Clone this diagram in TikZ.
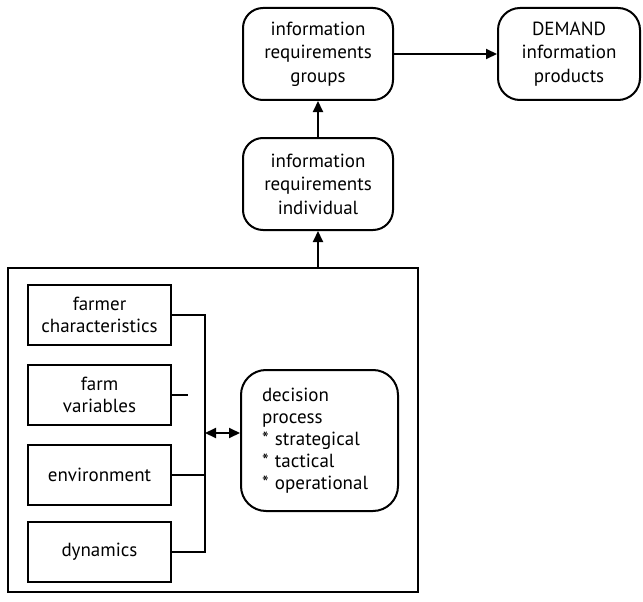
\documentclass[tikz,border=0pt]{standalone}
\usepackage{fontspec}
\setmainfont{PT Sans}
\usetikzlibrary{arrows.meta}
\begin{document}
\begin{tikzpicture}[x=1pt,y=-1pt,
  every node/.style={font=\fontsize{19}{23.5}\selectfont, inner sep=0pt, line width=2pt},
  rbox/.style={draw, rounded corners=20pt, align=center, minimum width=150pt, minimum height=92pt},
  sbox/.style={draw, align=center, minimum width=143pt, minimum height=60pt, font=\fontsize{19}{22}\selectfont},
  wire/.style={line width=2pt},
  tip/.tip={Triangle[length=11pt,width=10pt]},
  arr/.style={wire, -tip},
  darr/.style={wire, tip-tip}]
\useasboundingbox (0,0) rectangle (643,602);
% upper chain
\node[rbox] (grp) at (318,54) {information\\requirements\\groups};
\node[rbox, minimum width=142pt, rounded corners=22pt] (dem) at (569,54) {DEMAND\\information\\products};
\node[rbox] (ind) at (318,184) {information\\requirements\\individual};
% enclosing frame of the farm system
\node[draw, minimum width=410pt, minimum height=324pt] (outer) at (213,430) {};
% inputs
\node[sbox] (farmer) at (99.5,315) {farmer\\characteristics};
\node[sbox] (farmvar) at (99.5,395) {farm\\variables};
\node[sbox] (env) at (99.5,475) {environment};
\node[sbox] (dyn) at (99.5,552) {dynamics};
% decision process
\node[draw, rounded corners=25pt, align=left, minimum width=157pt, minimum height=141pt, text width=115pt,
  font=\fontsize{19}{22}\selectfont] (dec) at (319.5,440.5)
  {decision\\process\\{*} strategical\\{*} tactical\\{*} operational};
% bus collecting the inputs
\coordinate (busTop) at (205,315);
\coordinate (busBot) at (205,552);
\coordinate (bus) at (205,433);
\coordinate (fvEnd) at (188,395);
\draw[wire] (farmer.east) -- (busTop) -- (busBot) -- (dyn.east);
\draw[wire] (env.east) -- (env.east -| bus);
\draw[wire] (farmvar.east) -- (fvEnd);
\draw[darr] (bus) -- (bus -| dec.west);
% upward flow
\draw[arr] (outer.north -| ind.south) -- (ind.south);
\draw[arr] (ind.north) -- (grp.south);
\draw[arr] (grp.east) -- (dem.west);
\end{tikzpicture}
\end{document}
